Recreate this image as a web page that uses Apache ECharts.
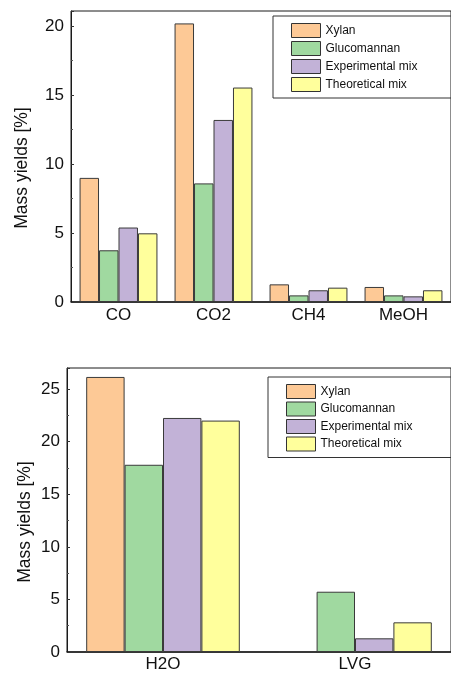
<!DOCTYPE html>
<html><head><meta charset="utf-8">
<script src="https://cdn.jsdelivr.net/npm/echarts@6/dist/echarts.min.js"></script>
<style>html,body{margin:0;padding:0;background:#fff}#c{width:451px;height:673px}</style>
</head><body><div id="c"></div>
<script>
const seriesNames = ['Xylan', 'Glucomannan', 'Experimental mix', 'Theoretical mix'];
const colors = ['#FDC996', '#A0D9A0', '#C2B2D7', '#FFFF9C'];
// top panel: gases
const gasCategories = ['CO', 'CO2', 'CH4', 'MeOH'];
const gasXylan = [9.0, 20.2, 1.28, 1.09];
const gasGlucomannan = [3.75, 8.6, 0.48, 0.48];
const gasExperimental = [5.4, 13.2, 0.85, 0.41];
const gasTheoretical = [4.98, 15.55, 1.04, 0.85];
// bottom panel
const liqCategories = ['H2O', 'LVG'];
const liqXylan = [26.15, 0];
const liqGlucomannan = [17.8, 5.73];
const liqExperimental = [22.25, 1.3];
const liqTheoretical = [22.0, 2.82];
const yTitle = 'Mass yields [%]';

const FONT = 'Liberation Sans, Arial, sans-serif';
const gasData = [gasXylan, gasGlucomannan, gasExperimental, gasTheoretical];
const liqData = [liqXylan, liqGlucomannan, liqExperimental, liqTheoretical];

function catAxes(grid, cats, margin) {
  return [
    { type: 'category', gridIndex: grid, data: cats, position: 'bottom',
      axisLine: { lineStyle: { color: '#1a1a1a', width: 1.5 } },
      axisTick: { inside: true, length: 3, lineStyle: { color: '#333' } },
      axisLabel: { color: '#111', fontSize: 17, fontFamily: FONT, margin: margin } },
    { type: 'category', gridIndex: grid, data: cats, position: 'bottom',
      axisLine: { show: false },
      axisTick: { inside: true, length: 3, alignWithLabel: true, lineStyle: { color: '#333' } },
      axisLabel: { show: false } }
  ];
}
function valAxis(grid, max) {
  return { type: 'value', gridIndex: grid, min: 0, max: max, interval: 5,
    axisLine: { show: true, lineStyle: { color: '#1a1a1a', width: 1 } },
    axisTick: { show: true, inside: true, length: 3, lineStyle: { color: '#333' } },
    minorTick: { show: true, splitNumber: 2, length: 2, lineStyle: { color: '#555' } },
    splitLine: { show: false },
    axisLabel: { color: '#111', fontSize: 17, fontFamily: FONT, margin: 7,
      formatter: v => (v % 5 === 0 ? String(v) : '') } };
}
const series = [];
seriesNames.forEach((n, i) => {
  series.push({ name: n, type: 'bar', xAxisIndex: 0, yAxisIndex: 0, data: gasData[i],
    barGap: '0%', barCategoryGap: '18%',
    itemStyle: { color: colors[i], borderColor: '#3a3a3a', borderWidth: 1 } });
  series.push({ name: n, type: 'bar', xAxisIndex: 2, yAxisIndex: 1, data: liqData[i],
    barGap: '0%', barCategoryGap: '20%',
    itemStyle: { color: colors[i], borderColor: '#3a3a3a', borderWidth: 1 } });
});
function legend(left, top, gap) {
  return { data: seriesNames, left: left, top: top, orient: 'vertical',
    padding: [7, 60, 6, 18], itemGap: gap, itemWidth: 29, itemHeight: 14,
    borderColor: '#333', borderWidth: 1, selectedMode: false, icon: 'rect',
    itemStyle: { borderColor: '#333', borderWidth: 1 },
    textStyle: { fontSize: 12, lineHeight: 14, fontFamily: FONT, color: '#111' } };
}
function yName(x, y) {
  return { type: 'text', x: x, y: y, rotation: Math.PI / 2,
    style: { text: yTitle, font: '17.5px ' + FONT, fill: '#111', align: 'center', verticalAlign: 'middle' } };
}
const chart = echarts.init(document.getElementById('c'), null, { renderer: 'canvas' });
chart.setOption({
  animation: false,
  backgroundColor: '#fff',
  grid: [
    { left: 71, top: 11, width: 392, height: 291, show: true, borderColor: '#1a1a1a', borderWidth: 1 },
    { left: 67, top: 368, width: 393, height: 285, show: true, borderColor: '#1a1a1a', borderWidth: 1 }
  ],
  legend: [legend(273, 16, 3), legend(268, 377, 2.5)],
  xAxis: [...catAxes(0, gasCategories, 5), ...catAxes(1, liqCategories, 4)],
  yAxis: [valAxis(0, 21.1), valAxis(1, 27)],
  graphic: [yName(22, 168), yName(25.5, 522)],
  series: series
});
</script></body></html>
